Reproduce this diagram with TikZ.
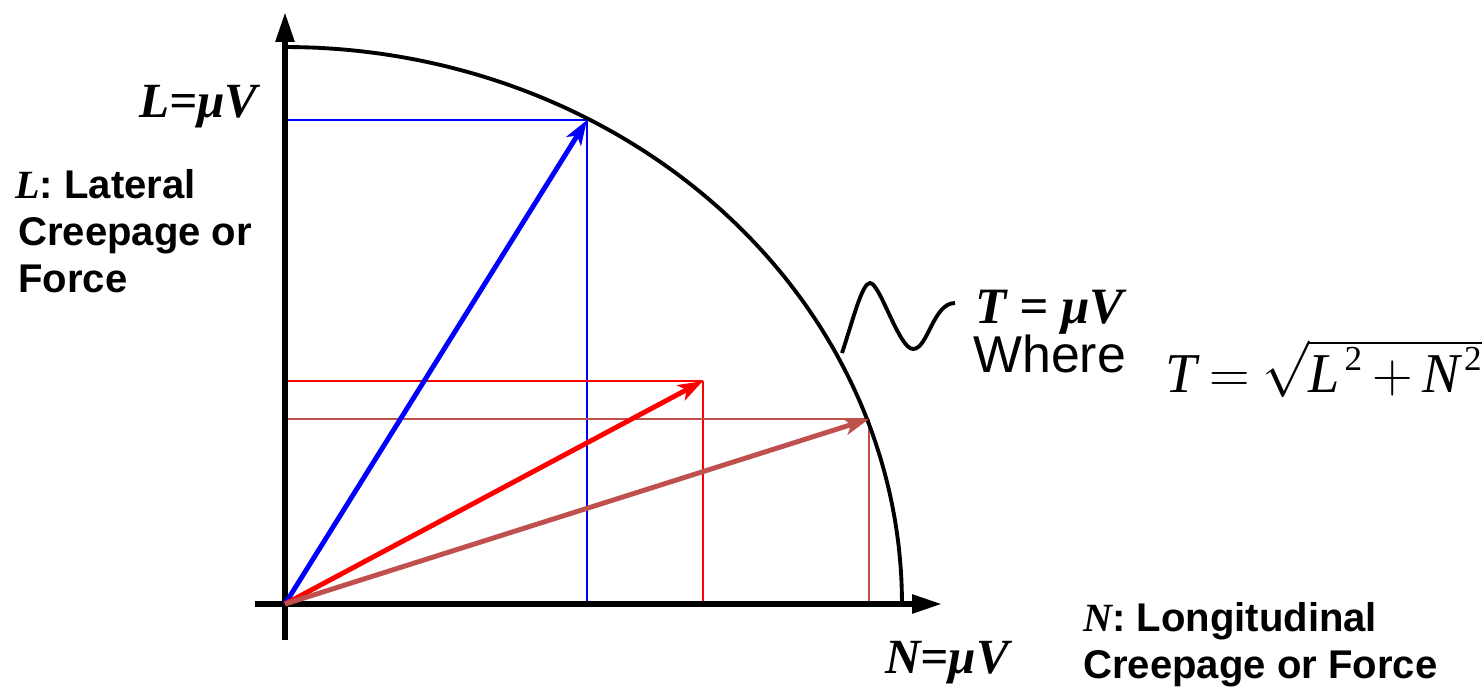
\documentclass[tikz,border=0pt]{standalone}
\usepackage{fix-cm}
\usepackage{fontspec}
\setmainfont{Liberation Sans}
\newfontfamily\tnr{Liberation Serif}
\usetikzlibrary{arrows.meta, calc}
\definecolor{rustred}{RGB}{192,80,77}
\tikzset{
  axis/.style={line width=3.2pt, -{Triangle[length=0.6cm, width=0.36cm]}},
  rim/.style={line width=2.2pt},
  vec/.style={line width=2.8pt, -{Stealth[length=0.5cm, width=0.34cm, inset=0.13cm]}},
  proj/.style={line width=0.8pt},
  lbl/.style={inner sep=0pt, anchor=base west, font=\fontsize{22.8}{26}\selectfont\bfseries},
  mulbl/.style={inner sep=0pt, font=\fontsize{28}{32}\selectfont\tnr\bfseries\itshape}
}
\newcommand{\tvar}[1]{\mbox{\tnr\itshape #1}}
\newcommand{\tsq}{\mkern2mu\mbox{\fontsize{20}{20}\selectfont\tnr 2}}

\begin{document}
\begin{tikzpicture}[x=0.02cm, y=-0.02cm]
    \useasboundingbox (0,0) rectangle (1482,687);

    % Punkte
    \coordinate (O) at (285,604);
    \coordinate (yb) at (285,640);
    \coordinate (yt) at (285,12);
    \coordinate (xl) at (255,604);
    \coordinate (xr) at (942,604);
    \coordinate (Bt) at (587,120);
    \coordinate (Rt) at (703,381);
    \coordinate (Mt) at (869,419);

    % Projektionen
    \draw[proj, blue] (Bt) -- (Bt |- O);
    \draw[proj, blue] (Bt) -- (Bt -| O);
    \draw[proj, red] (Rt) -- (Rt |- O);
    \draw[proj, red] (Rt) -- (Rt -| O);
    \draw[proj, rustred] (Mt) -- (Mt |- O);
    \draw[proj, rustred] (Mt) -- (Mt -| O);

    % Ellipsenbogen
    \draw[rim] plot[domain=90:0, samples=61, smooth] ({285+617*cos(\x)}, {604-557*sin(\x)});

    % Achsen
    \draw[axis] (yb) -- (yt);
    \draw[axis] (xl) -- (xr);

    % Vektoren
    \draw[vec, blue] (O) -- (Bt);
    \draw[vec, red] (O) -- (Rt);
    \draw[vec, rustred] (O) -- (Mt);

    % Welle zum Text
    \coordinate (w0) at (842,353);
    \coordinate (w3) at (955,303);
    \draw[rim] (w0) .. controls (853,320) and (862,283) .. (870,283)
        .. controls (880,283) and (899,349) .. (913,349)
        .. controls (928,349) and (933,303) .. (w3);

    % Beschriftungen
    \node[mulbl, anchor=base east] (Lmu) at (258,117) {L=μV};
    \node[mulbl, anchor=base west] (Nmu) at (885,673) {N=μV};
    \node[mulbl, anchor=base west, font=\fontsize{29}{32}\selectfont\tnr\bfseries\itshape] (Tmu) at (975,323) {T = μV};
    \node[inner sep=0pt, anchor=base west, font=\fontsize{29.5}{32}\selectfont] (where) at (973,372) {Where};
    \node[inner sep=0pt, anchor=base west, font=\fontsize{32}{36}\selectfont] (Tform) at (1165,392)
        {\thickmuskip=4mu \medmuskip=3mu $\tvar{T}=\sqrt{\tvar{L}^{\tsq}+\tvar{N}^{\tsq}}$};

    \node[lbl] (L1) at (15,198) {{\tnr\itshape L}: Lateral};
    \node[lbl] (L2) at (18,245) {Creepage or};
    \node[lbl] (L3) at (18,292) {Force};

    \node[lbl] (N1) at (1083,631) {{\tnr\itshape N}: Longitudinal};
    \node[lbl] (N2) at (1083,678) {Creepage or Force};

\end{tikzpicture}
\end{document}
